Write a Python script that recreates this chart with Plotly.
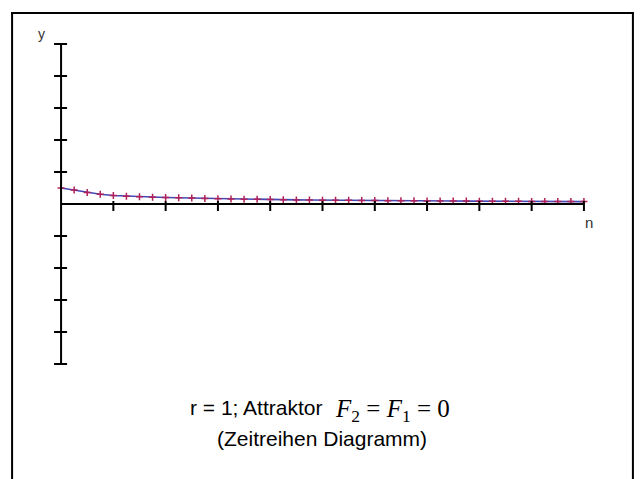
import plotly.graph_objects as go

# ---- data ----
n_values = list(range(0, 41))
y_values = [0.100, 0.0875, 0.072, 0.061, 0.053, 0.049, 0.045, 0.0425, 0.041, 0.039,
            0.037, 0.035, 0.033, 0.031, 0.030, 0.029, 0.0275, 0.026, 0.0255, 0.025,
            0.024, 0.0237, 0.023, 0.0225, 0.022, 0.021, 0.0205, 0.020, 0.0195, 0.019,
            0.0185, 0.018, 0.0177, 0.0173, 0.017, 0.0166, 0.0163, 0.016, 0.0157, 0.0154,
            0.015]
x_ticks = [0, 4, 8, 12, 16, 20, 24, 28, 32, 36, 40]
y_ticks = [-1.0, -0.8, -0.6, -0.4, -0.2, 0.2, 0.4, 0.6, 0.8, 1.0]
x_axis_span = [0, 40]
y_axis_span = [-1, 1]
x_range = [-1, 41]
y_range = [-1.1, 1.1]

# page has an 8px body margin; figure is drawn at offset (8, 8)
OFF = 8
W, H = 642 - 2 * OFF, 479 - OFF
# reference pixel positions of plot area (covering the padded ranges)
L_ref, R_ref = 61 - 523 / 40, 584 + 523 / 40
T_ref, B_ref = 44 - 16, 364 + 16


def px(x):
    return (x - L_ref) / (R_ref - L_ref)


def py(y):
    return (B_ref - y) / (B_ref - T_ref)


fig = go.Figure()
fig.add_trace(go.Scatter(
    x=n_values, y=y_values, mode="lines+markers",
    line=dict(color="#4646b4", width=1.6),
    marker=dict(symbol="cross-thin", size=5, line=dict(color="#b0205a", width=1.5)),
    cliponaxis=False, showlegend=False,
))

shapes = []
# axis lines
shapes.append(dict(type="line", xref="x", yref="y", x0=x_axis_span[0], x1=x_axis_span[0],
                   y0=y_axis_span[0], y1=y_axis_span[1], line=dict(color="black", width=2)))
shapes.append(dict(type="line", xref="x", yref="y", x0=x_axis_span[0], x1=x_axis_span[1],
                   y0=0, y1=0, line=dict(color="black", width=2)))
# y ticks
for t in y_ticks:
    shapes.append(dict(type="line", xref="x", yref="y", xsizemode="pixel", xanchor=0,
                       x0=-7, x1=6, y0=t, y1=t, line=dict(color="black", width=2)))
# x ticks
for t in x_ticks[1:]:
    shapes.append(dict(type="line", xref="x", yref="y", ysizemode="pixel", yanchor=0,
                       y0=-7, y1=3, x0=t, x1=t, line=dict(color="black", width=2)))
# frame: filled bars for left, top, right edges (bottom edge lies below the window)
bar = dict(xref="paper", yref="paper", type="rect", line=dict(width=0), fillcolor="black")
bottom = py(OFF + H)
shapes.append(dict(bar, x0=px(11), x1=px(13), y0=bottom, y1=py(12)))
shapes.append(dict(bar, x0=px(11), x1=px(634), y0=py(14), y1=py(12)))
shapes.append(dict(bar, x0=px(632), x1=px(634), y0=bottom, y1=py(12)))

sans = "Liberation Sans, Arial, sans-serif"
serif = "Liberation Serif, Times New Roman, serif"
annotations = [
    dict(text="y", x=px(41), y=py(34), xref="paper", yref="paper", showarrow=False,
         font=dict(family=sans, size=14, color="#333333"), xanchor="center", yanchor="middle"),
    dict(text="n", x=px(589), y=py(222), xref="paper", yref="paper", showarrow=False,
         font=dict(family=sans, size=15, color="#333333"), xanchor="center", yanchor="middle"),
    dict(text="r = 1; Attraktor", x=px(324), y=py(407), xref="paper", yref="paper",
         showarrow=False, font=dict(family=sans, size=21, color="black"),
         xanchor="right", yanchor="middle"),
    dict(text="<i>F</i><sub>2</sub> = <i>F</i><sub>1</sub> = 0", x=px(333), y=py(410),
         xref="paper", yref="paper", showarrow=False,
         font=dict(family=serif, size=25, color="black"), xanchor="left", yanchor="middle"),
    dict(text="(Zeitreihen Diagramm)", x=px(322), y=py(439), xref="paper", yref="paper",
         showarrow=False, font=dict(family=sans, size=21, color="black"),
         xanchor="center", yanchor="middle"),
]

fig.update_layout(
    width=W + OFF, height=H,
    margin=dict(l=L_ref - OFF, r=W + OFF - (R_ref - OFF), t=T_ref - OFF, b=H - (B_ref - OFF), pad=0),
    paper_bgcolor="white", plot_bgcolor="white",
    xaxis=dict(range=x_range, visible=False, fixedrange=True),
    yaxis=dict(range=y_range, visible=False, fixedrange=True),
    shapes=shapes, annotations=annotations,
)

fig.write_html("out.html")
